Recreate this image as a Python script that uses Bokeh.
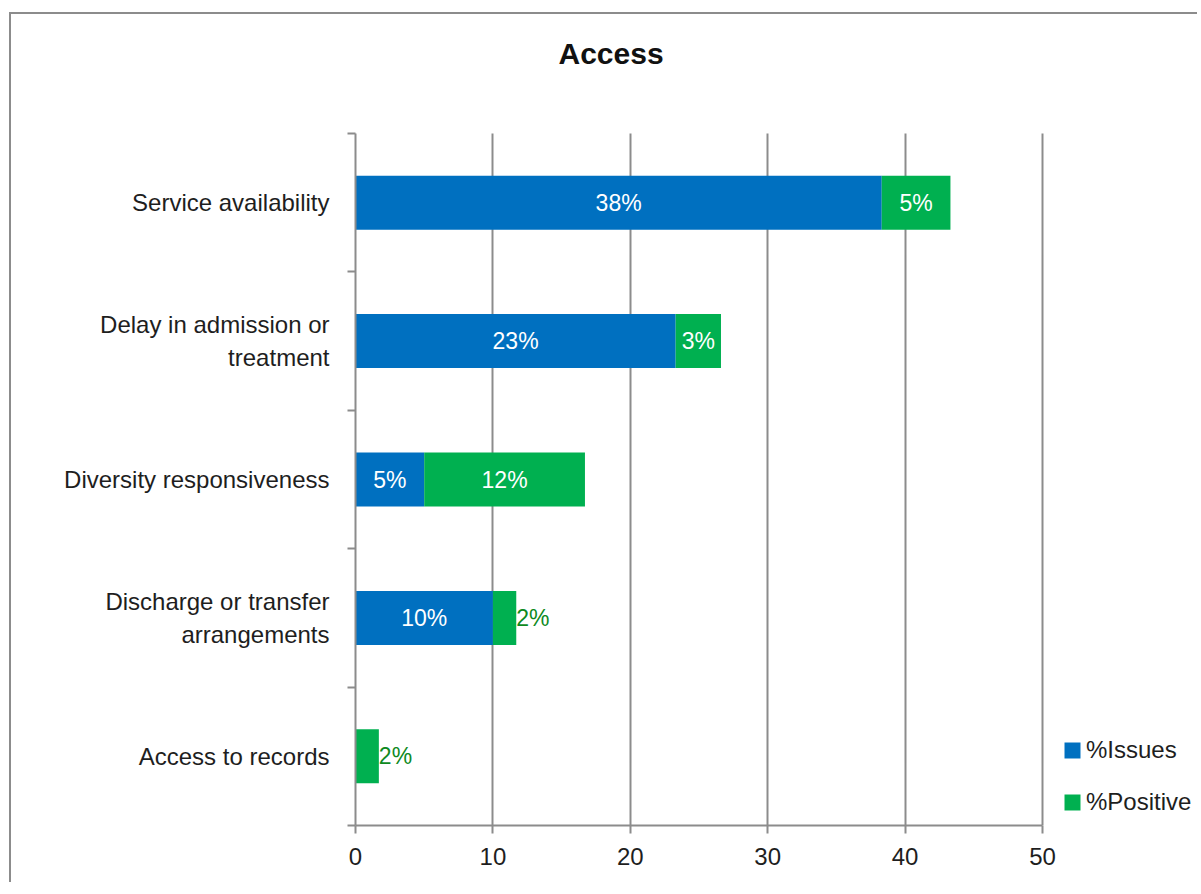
from bokeh.plotting import figure
from bokeh.models import ColumnDataSource, FixedTicker, Legend, LegendItem, Label
from bokeh.core.properties import value
from bokeh.embed import file_html
from bokeh.resources import INLINE

categories = ["Service availability", "Delay in admission or\ntreatment",
              "Diversity responsiveness", "Discharge or transfer\narrangements",
              "Access to records"]
issues = [38.3, 23.3, 5.0, 10.0, 0.0]
positive = [5.0, 3.3, 11.7, 1.7, 1.7]
issue_labels = ["38%", "23%", "5%", "10%", ""]
positive_labels = ["5%", "3%", "12%", "2%", "2%"]
x_ticks = [0, 10, 20, 30, 40, 50]
series_names = ["%Issues", "%Positive"]
title_text = "Access"

FONT = "Liberation Sans"
BLUE = "#0070C0"
GREEN = "#00B050"
GRAY = "#8c8c8c"
TEXT = "#1e1e1e"

n = len(categories)
ypos = [n - 0.5 - i for i in range(n)]
src = ColumnDataSource(dict(y=ypos, issues=issues, positive=positive))

# layout (pixels, canvas coordinates)
W, H = 1188, 870
LEFT, AXIS_W = 344, 687      # frame left offset, pixel length of the 0..50 axis
BOTTOM, AXIS_H = 59, 692     # bottom border, pixel height of the category axis
xmax = x_ticks[-1]
x_end = xmax * (W - LEFT) / AXIS_W          # frame reaches right edge (room for legend)
y_end = n * (H - BOTTOM) / AXIS_H           # frame reaches top edge (room for title)

p = figure(width=W, height=H, x_range=(0, x_end), y_range=(0, y_end),
           output_backend="svg", toolbar_location=None,
           min_border_left=LEFT, min_border_top=0, min_border_right=0,
           min_border_bottom=BOTTOM)
p.margin = (12, 0, 0, 9)
p.styles = {"border-left": f"2px solid {GRAY}", "border-top": f"2px solid {GRAY}"}
p.outline_line_color = None

r = p.hbar_stack(["issues", "positive"], y="y", height=0.39, color=[BLUE, GREEN],
                 line_color=None, source=src)

# labels inside/after bars
ix, iy, it = [], [], []
for v, y, t in zip(issues, ypos, issue_labels):
    if t:
        ix.append(v / 2); iy.append(y); it.append(t)
p.text(x=ix, y=iy, text=it, text_color="white", text_align="center", text_baseline="middle",
       text_font=value(FONT), text_font_size="23px")

cx, cy, ct, sx, sy, st = [], [], [], [], [], []
for a, b, y, t in zip(issues, positive, ypos, positive_labels):
    if b >= 3:
        cx.append(a + b / 2); cy.append(y); ct.append(t)
    else:
        sx.append(a + b); sy.append(y); st.append(t)
p.text(x=cx, y=cy, text=ct, text_color="white", text_align="center", text_baseline="middle",
       text_font=value(FONT), text_font_size="23px")
p.text(x=sx, y=sy, text=st, text_color="#0E8A1E", text_align="left", text_baseline="middle",
       text_font=value(FONT), text_font_size="23px")

# axes
p.xaxis.ticker = FixedTicker(ticks=x_ticks)
p.xaxis.bounds = (0, xmax)
p.xaxis.axis_line_color = GRAY
p.xaxis.axis_line_width = 2
p.xaxis.major_tick_line_color = GRAY
p.xaxis.major_tick_line_width = 2
p.xaxis.major_tick_out = 8
p.xaxis.major_tick_in = 0
p.xaxis.minor_tick_line_color = None
p.xaxis.major_label_standoff = 14
p.xaxis.major_label_text_font = FONT
p.xaxis.major_label_text_font_size = "24px"
p.xaxis.major_label_text_color = TEXT

p.yaxis.ticker = FixedTicker(ticks=ypos, minor_ticks=list(range(n + 1)))
p.yaxis.bounds = (0, n)
p.yaxis.major_label_overrides = {y: c for y, c in zip(ypos, categories)}
p.yaxis.axis_line_color = GRAY
p.yaxis.axis_line_width = 2
p.yaxis.major_tick_line_color = None
p.yaxis.major_tick_out = 0
p.yaxis.major_tick_in = 0
p.yaxis.minor_tick_line_color = GRAY
p.yaxis.minor_tick_line_width = 2
p.yaxis.minor_tick_out = 8
p.yaxis.minor_tick_in = 0
p.yaxis.major_label_standoff = 18
p.yaxis.major_label_text_font = FONT
p.yaxis.major_label_text_font_size = "24px"
p.yaxis.major_label_text_color = TEXT

p.xgrid.ticker = FixedTicker(ticks=x_ticks)
p.xgrid.cross_bounds = (0, n)
p.xgrid.grid_line_color = GRAY
p.xgrid.grid_line_width = 2
p.ygrid.grid_line_color = None

# title (screen units relative to the frame's bottom-left corner)
p.add_layout(Label(x=203, y=772, x_units="screen", y_units="screen", text=title_text,
                   text_align="left", text_baseline="alphabetic",
                   text_font=FONT, text_font_style="bold",
                   text_font_size="30px", text_color="#111111"))

legend = Legend(items=[LegendItem(label=series_names[0], renderers=[r[0]]),
                       LegendItem(label=series_names[1], renderers=[r[1]])],
                location=(707, 9), orientation="vertical",
                glyph_width=20, glyph_height=20, spacing=24, label_standoff=4,
                label_text_font=FONT, label_text_font_size="24px", label_text_color=TEXT,
                background_fill_alpha=0, border_line_color=None, padding=0, margin=0)
p.add_layout(legend)

open("out.html", "w").write(file_html(p, INLINE))
